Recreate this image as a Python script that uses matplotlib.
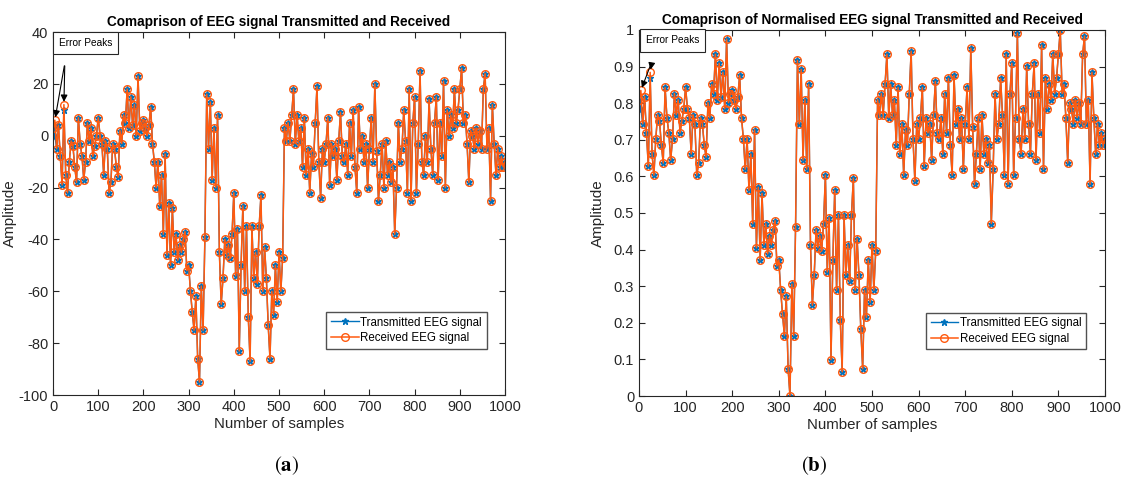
import numpy as np
import matplotlib
matplotlib.use('Agg')
import matplotlib.pyplot as plt

plt.rcParams['font.family'] = ['Liberation Sans', 'DejaVu Sans']
plt.rcParams['axes.unicode_minus'] = False
plt.rcParams['mathtext.fontset'] = 'stix'

# EEG samples (every 4th sample)
step = 4
eeg = [3, 0, -5, 4, -8, -19, 10, -15, -22, -10, -2, -4, -12, -18, 7, -3, -8, -17, -10, 5, -2, 3, -8, -4, 0,
       7, 0, -3, -15, -2, -5, -22, -18, -3, -5, -12, -16, 2, -3, 8, 5, 18, 3, 15, 4, 12, 0, 23, 2, 5,
       6, 3, 0, 4, 11, -3, -10, -20, -10, -27, -15, -38, -7, -46, -26, -50, -28, -45, -38, -48, -42, -45, -40, -37, -52,
       -50, -60, -68, -75, -62, -86, -95, -58, -75, -39, 16, -5, 13, -17, 3, -20, 8, -45, -65, -55, -40, -46, -42, -47, -38,
       -22, -54, -36, -83, -50, -27, -60, -35, -70, -87, -35, -55, -45, -57, -35, -23, -60, -43, -55, -73, -86, -60, -69, -50, -64,
       -45, -60, -47, 3, -2, 5, -2, 8, 18, -3, 8, -2, 3, -12, 7, -15, -5, -22, -7, -12, 5, 19, -10, -24, -5,
       -10, -3, 7, -19, -3, -8, -5, -17, -2, 9, -8, -10, -3, -15, 5, -8, 10, -12, -22, 11, -5, 0, -10, -3, -20,
       -5, 7, -10, 20, -6, -25, -15, -3, -20, -2, -15, -10, -18, -12, -38, -20, 5, -10, -5, 10, -2, -22, 18, -25, 5,
       15, -22, -3, 25, -10, -15, 0, -10, 14, -5, -15, 5, 15, -17, 5, -8, 21, -20, 10, 0, 8, 3, 18, 5, 10,
       18, 26, 5, 8, -3, -18, 2, 0, -5, 3, -3, 2, -5, 18, 24, -5, 3, -25, 12, -3, -15, -5, -12, -8, -12, -10]

# received signal equals transmitted except at the two error peaks
err_idx = [1, 6]
err_val = [6, 12]

tx = np.array(eeg, dtype=float)
rx = tx.copy()
rx[err_idx] = err_val
x = np.arange(len(tx)) * step

lo, hi = tx.min(), tx.max()
tx_n = (tx - lo) / (hi - lo)
rx_n = (rx - lo) / (hi - lo)

blue = '#0072BD'
orange = '#FF5a0f'
ink = '#262626'

fig = plt.figure(figsize=(11.24, 4.95), dpi=100)
ax1 = fig.add_axes([0.0472, 0.2020, 0.4021, 0.7333])
ax2 = fig.add_axes([0.5685, 0.2000, 0.4146, 0.7394])

panels = [
    (ax1, tx, rx, 'Comaprison of EEG signal Transmitted and Received',
     (-100, 40), np.arange(-100, 41, 20), (13, 37.8), -0.08),
    (ax2, tx_n, rx_n, 'Comaprison of Normalised EEG signal Transmitted and Received',
     (0, 1), np.arange(0, 1.01, 0.1), (15, 0.985), -0.073),
]

for ax, t, r, title, ylim, yt, boxpos, ylx in panels:
    ax.plot(x, t, '-*', color=blue, lw=1, ms=5, label='Transmitted EEG signal')
    ax.plot(x, r, '-o', color=orange, lw=1.1, ms=5.5, mfc='none', mew=1.0,
            label='Received EEG signal')
    ax.set_xlim(0, 1000)
    ax.set_ylim(*ylim)
    ax.set_xticks(np.arange(0, 1001, 100))
    ax.set_yticks(yt)
    if ylim[1] == 1:
        ax.set_yticklabels(['0'] + ['%.1f' % v for v in yt[1:-1]] + ['1'])
    ax.tick_params(direction='in', top=True, right=True, labelsize=10.5,
                   colors=ink, length=4)
    ax.set_xlabel('Number of samples', fontsize=10.8, color=ink, labelpad=2)
    ax.set_ylabel('Amplitude', fontsize=11, color=ink)
    ax.yaxis.set_label_coords(ylx, 0.5)
    ax.set_title(title, fontsize=9.8, fontweight='bold', pad=4)
    ax.legend(loc='lower right', bbox_to_anchor=(0.972, 0.112), fontsize=8.3,
              frameon=True, fancybox=False, edgecolor=ink,
              borderpad=0.4, labelspacing=0.3, handlelength=2.4, handletextpad=0.15)
    ax.text(boxpos[0], boxpos[1], 'Error Peaks', fontsize=7.3, va='top', ha='left',
            bbox=dict(boxstyle='square,pad=0.6', fc='white', ec=ink, lw=0.8))
    span = ylim[1] - ylim[0]
    for i in err_idx:
        ax.annotate('', xy=(x[i], r[i]), xytext=(boxpos[0] + 13, boxpos[1] - span * 0.07),
                    arrowprops=dict(arrowstyle='-|>', color='black', lw=0.8,
                                    mutation_scale=10))
    for s in ax.spines.values():
        s.set_color(ink)
        s.set_linewidth(0.8)

fig.text(0.2553, 0.048, r'($\mathbf{a}$)', ha='center', fontsize=15, family='STIXGeneral')
fig.text(0.7242, 0.048, r'($\mathbf{b}$)', ha='center', fontsize=15, family='STIXGeneral')

fig.savefig('out.png', dpi=100)
